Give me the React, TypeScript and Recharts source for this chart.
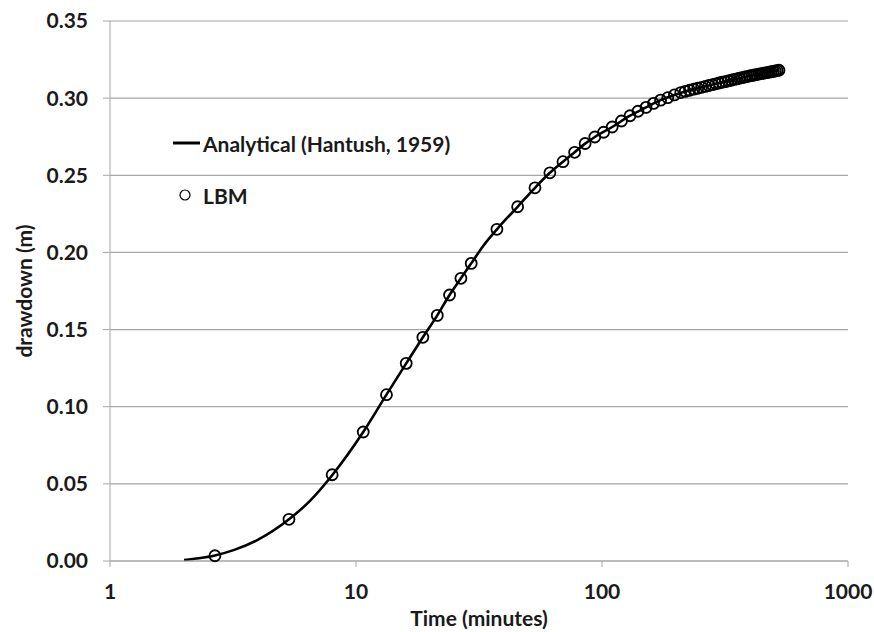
import { ComposedChart, Line, Scatter, XAxis, YAxis, CartesianGrid, Label } from 'recharts'

// analytical solution (Hantush, 1959), time in minutes
const analyticalTime = [
  2.0, 2.3, 2.67, 3.2, 4.0, 5.34, 6.5, 8.0, 10.7, 13.3, 16.0, 18.7, 21.4, 24.0, 26.7, 29.4, 33.0,
  37.4, 45.4, 53.4, 61.4, 69.4, 77.4, 85.4, 93.5, 110, 130, 151, 173, 197, 222, 248, 276, 305, 335,
  367, 400, 434, 470, 506, 524,
]
const analyticalDrawdown = [
  0.0007, 0.0018, 0.0036, 0.0072, 0.0138, 0.0270, 0.0390, 0.0556, 0.0836, 0.1078, 0.1281, 0.1450,
  0.1592, 0.1724, 0.1832, 0.1929, 0.2045, 0.2150, 0.2296, 0.2419, 0.2516, 0.2588, 0.2649, 0.2705,
  0.2748, 0.2813, 0.2886, 0.2940, 0.2987, 0.3021, 0.3047, 0.3066, 0.3085, 0.3101, 0.3116, 0.3131,
  0.3145, 0.3156, 0.3166, 0.3176, 0.3181,
]

// LBM simulation output
const lbmTime = [
  2.67, 5.34, 8.0, 10.7, 13.3, 16.0, 18.7, 21.4, 24.0, 26.7, 29.4, 37.4, 45.4, 53.4, 61.4, 69.4,
  77.4, 85.4, 93.5, 101.5, 110, 120, 130, 140, 151, 162, 173, 185, 197, 209, 218, 227, 236, 245,
  254, 263, 272, 281, 290, 299, 308, 317, 326, 335, 344, 353, 362, 371, 380, 389, 398, 407, 416,
  425, 434, 443, 452, 461, 470, 479, 488, 497, 506, 515, 524,
]
const lbmDrawdown = [
  0.0034, 0.0270, 0.0559, 0.0836, 0.1078, 0.1281, 0.1450, 0.1592, 0.1724, 0.1832, 0.1929, 0.2150,
  0.2296, 0.2419, 0.2516, 0.2588, 0.2649, 0.2706, 0.2748, 0.2779, 0.2813, 0.2852, 0.2886, 0.2915,
  0.2940, 0.2966, 0.2987, 0.3003, 0.3021, 0.3036, 0.3044, 0.3051, 0.3058, 0.3064, 0.3070, 0.3076,
  0.3082, 0.3087, 0.3093, 0.3098, 0.3103, 0.3107, 0.3112, 0.3116, 0.3121, 0.3125, 0.3129, 0.3133,
  0.3137, 0.3140, 0.3144, 0.3147, 0.3150, 0.3153, 0.3156, 0.3159, 0.3161, 0.3164, 0.3166, 0.3169,
  0.3171, 0.3174, 0.3176, 0.3179, 0.3181,
]

const xTicks = [1, 10, 100, 1000]
const yTicks = [0, 0.05, 0.1, 0.15, 0.2, 0.25, 0.3, 0.35]

const analytical = analyticalTime.map((t, i) => ({ t, s: analyticalDrawdown[i] }))
const lbm = lbmTime.map((t, i) => ({ t, s: lbmDrawdown[i] }))

const FONT = 'Lato, sans-serif'
const FS = 21
const TEXT = '#1a1a1a'
const GRID = '#a6a6a6'

const HollowCircle = (props: any) => (
  <circle cx={props.cx} cy={props.cy} r={5.5} fill="none" stroke="#000" strokeWidth={1.8} />
)

// legend sits inside the plot area, upper left
const LegendBox = () => (
  <svg
    width={320}
    height={90}
    style={{ position: 'absolute', left: 165, top: 125, overflow: 'visible' }}
  >
    <line x1={8} y1={18} x2={35} y2={18} stroke="#000" strokeWidth={3} />
    <text x={38} y={18} dominantBaseline="central" fontFamily={FONT} fontWeight={700} fontSize={FS} fill={TEXT}>
      Analytical (Hantush, 1959)
    </text>
    <circle cx={20} cy={70} r={5} fill="none" stroke="#000" strokeWidth={1.2} />
    <text x={38} y={70} dominantBaseline="central" fontFamily={FONT} fontWeight={700} fontSize={FS} fill={TEXT}>
      LBM
    </text>
  </svg>
)

export default function App() {
  return (
    <div style={{ position: 'absolute', left: 0, top: 0, width: 874, height: 632, background: '#fff' }}>
      <ComposedChart width={874} height={632} margin={{ top: 21, right: 26, bottom: 0, left: 0 }}>
        <CartesianGrid horizontal vertical={false} stroke={GRID} strokeWidth={1.2} />
        <XAxis
          dataKey="t"
          type="number"
          scale="log"
          domain={[1, 1000]}
          ticks={xTicks}
          allowDataOverflow
          height={71}
          stroke={GRID}
          tickSize={6}
          tickMargin={17}
          tick={{ fill: TEXT, fontFamily: FONT, fontWeight: 700, fontSize: FS }}
        >
          <Label
            content={({ viewBox }: any) => (
              <text
                x={viewBox.x + viewBox.width / 2}
                y={617}
                textAnchor="middle"
                dominantBaseline="central"
                fontFamily={FONT}
                fontWeight={700}
                fontSize={FS}
                fill={TEXT}
              >
                Time (minutes)
              </text>
            )}
          />
        </XAxis>
        <YAxis
          type="number"
          domain={[0, 0.35]}
          ticks={yTicks}
          width={110}
          stroke={GRID}
          tickSize={7}
          tickMargin={15}
          tickFormatter={(v: number) => v.toFixed(2)}
          tick={{ fill: TEXT, fontFamily: FONT, fontWeight: 700, fontSize: FS }}
        >
          <Label
            content={({ viewBox }: any) => {
              const cy = viewBox.y + viewBox.height / 2
              return (
                <text
                  x={23}
                  y={cy}
                  transform={`rotate(-90, 23, ${cy})`}
                  textAnchor="middle"
                  dominantBaseline="central"
                  fontFamily={FONT}
                  fontWeight={700}
                  fontSize={FS}
                  fill={TEXT}
                >
                  drawdown (m)
                </text>
              )
            }}
          />
        </YAxis>
        <Line
          data={analytical}
          dataKey="s"
          type="monotone"
          stroke="#000"
          strokeWidth={2.6}
          dot={false}
          activeDot={false}
          isAnimationActive={false}
        />
        <Scatter data={lbm} dataKey="s" shape={HollowCircle} isAnimationActive={false} />
      </ComposedChart>
      <LegendBox />
    </div>
  )
}
